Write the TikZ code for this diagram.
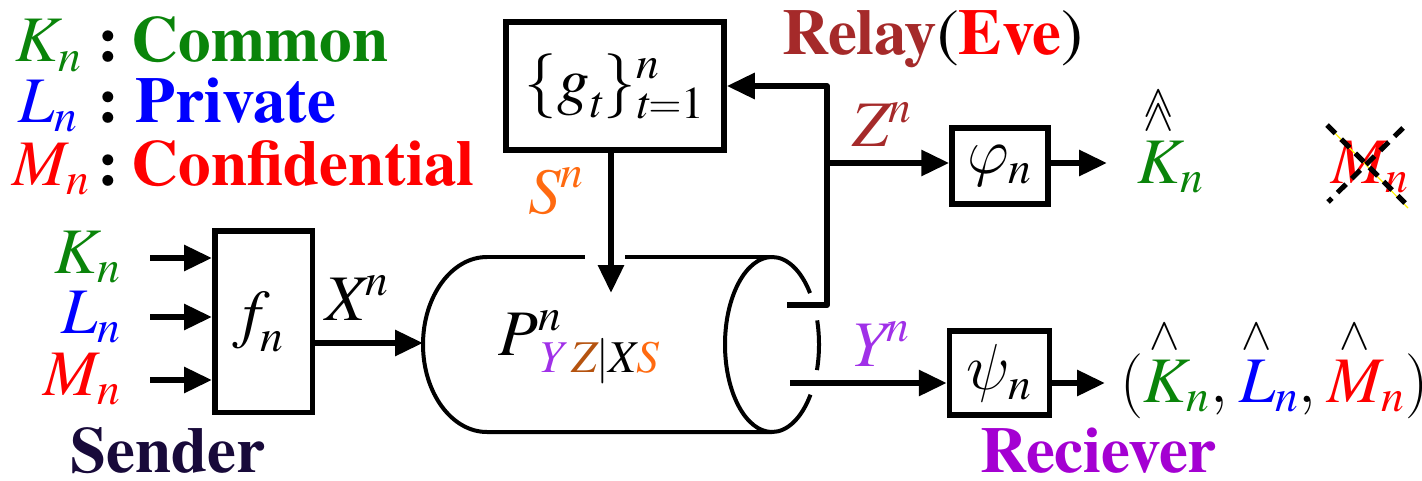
\documentclass[tikz,border=0pt]{standalone}
\usepackage{fix-cm}
\usepackage{amsmath}
\usepackage{fontspec}
\setmainfont{texgyretermes}[
    Extension=.otf,
    UprightFont=*-regular,
    BoldFont=*-bold,
    ItalicFont=*-italic,
    BoldItalicFont=*-bolditalic]
\usetikzlibrary{positioning,arrows.meta,calc}
\definecolor{keygreen}{HTML}{0A840A}
\definecolor{keyblue}{HTML}{0000FF}
\definecolor{keyred}{HTML}{FF0000}
\definecolor{relaybrown}{HTML}{A52A2A}
\definecolor{stateorange}{HTML}{FF6A10}
\definecolor{ypurple}{HTML}{A030E8}
\definecolor{zbrown}{HTML}{B5530F}
\definecolor{rxpurple}{HTML}{A400D2}
\definecolor{txnavy}{HTML}{180A3A}
\newcommand{\bigsize}{\fontsize{32.5}{38}\selectfont}
\newcommand{\mv}[1]{\textit{#1}}
\newcommand{\symK}{\mv{K}_{\mv{n}}}
\newcommand{\symL}{\mv{L}_{\mv{n}}}
\newcommand{\symM}{\mv{M}_{\mv{n}}}
\newcommand{\caret}[1]{{\stackrel{\wedge}{#1}}}
\newcommand{\dcaret}[1]{{\stackrel{\wedge\llap{\raisebox{7pt}{$\scriptstyle\wedge$}}}{#1}}}
\tikzset{
    every node/.style={inner sep=0pt,font=\bigsize},
    blk/.style={draw,line width=2.75pt,fill=white,inner sep=0pt},
    sig/.style={line width=3pt,line join=round,-{Triangle[length=14pt,width=12.5pt]}},
    pipe/.style={line width=2pt},
    head/.style={font=\bigsize\bfseries},
    cross/.style={line width=2.5pt,dash pattern=on 6pt off 4pt},
}

\begin{document}
\begin{tikzpicture}[x=0.5pt,y=0.5pt]
    \useasboundingbox (0,0) rectangle (1422,-481);

    % legend
    \node[anchor=base west,keygreen] (legk) at (15,-62) {$\symK$};
    \node[head,anchor=base west] (colk) at (97,-62) {:};
    \node[head,keygreen,base right=6pt of colk] (common) {Common};
    \node[anchor=base west,keyblue] (legl) at (18,-122) {$\symL$};
    \node[head,anchor=base west] (coll) at (97,-122) {:};
    \node[head,keyblue,base right=8pt of coll] (private) {Private};
    \node[anchor=base west,keyred] (legm) at (12,-185) {$\symM$};
    \node[head,anchor=base west] (colm) at (97,-185) {:};
    \node[head,keyred,base right=6pt of colm] (confid) {Confidential};

    % sender
    \node[blk,minimum width=48.75pt,minimum height=90.75pt] (f) at (263.5,-321.5) {$\mv{f}_{\mv{n}}$};
    \node[anchor=base east,keygreen] (kin) at (122,-273) {$\symK$};
    \node[anchor=base east,keyblue] (lin) at (122,-333) {$\symL$};
    \node[anchor=base east,keyred] (min) at (122,-395) {$\symM$};
    \coordinate (ki) at (150,-258);
    \coordinate (li) at (150,-317);
    \coordinate (mi) at (150,-380);
    \draw[sig] (ki) -- (ki -| f.west);
    \draw[sig] (li) -- (li -| f.west);
    \draw[sig] (mi) -- (mi -| f.west);
    \node[head,txnavy,anchor=base west] (sender) at (70,-472) {Sender};

    % channel
    \draw[pipe] (487,-257) arc[start angle=90,end angle=270,x radius=64,y radius=87.5] -- (772,-432);
    \draw[pipe] (487,-257) -- (585,-257) (625,-257) -- (772,-257);
    \draw[pipe] (772,-257) arc[start angle=90,end angle=270,x radius=47,y radius=87.5];
    \draw[pipe] (772,-257) arc[start angle=90,end angle=36,x radius=47,y radius=87.5];
    \draw[pipe] (772,-344.5) ++(16:47 and 87.5) arc[start angle=16,end angle=-17,x radius=47,y radius=87.5];
    \draw[pipe] (772,-344.5) ++(-35:47 and 87.5) arc[start angle=-35,end angle=-90,x radius=47,y radius=87.5];
    \node[anchor=base west] (chan) at (498,-355)
        {$\mv{P}^{\mv{n}}_{\textcolor{ypurple}{\mv{Y}}\,\textcolor{zbrown}{\mv{Z}}\vert\mv{X}\textcolor{stateorange}{\mv{S}}}$};
    \coordinate (chin) at (423,-343);
    \coordinate (chs) at (611,-293);
    \coordinate (zout) at (787,-305);
    \coordinate (zbend) at (827,-305);
    \coordinate (yout) at (790,-383);

    \draw[sig] (f.east |- chin) -- (chin);
    \node[anchor=base west] (xlab) at (325,-320) {$\mv{X}^{\mv{n}}$};

    % state sequence
    \node[blk,minimum width=109pt,minimum height=64pt] (g) at (615,-86)
        {$\{\mv{g}_{\mv{t}}\}^{\mv{n}}_{\mv{t}=\mathrm{1}}$};
    \draw[sig] (g.south -| chs) -- (chs);
    \node[anchor=base west,stateorange] (slab) at (528,-213) {$\mv{S}^{\mv{n}}$};

    % relay
    \node[head,anchor=base west] (relay) at (782,-55)
        {\textcolor{relaybrown}{Relay}\textmd{(}\textcolor{keyred}{Eve}\textmd{)}};
    \node[blk,minimum width=48pt,minimum height=38pt] (phi) at (1000,-166) {$\varphi_{\mv{n}}$};
    \draw[sig] (zout) -- (zbend) |- (g.east);
    \draw[sig] (zbend |- 0,-163) -- (phi.west |- 0,-163);
    \node[anchor=base west,relaybrown] (zlab) at (852,-147) {$\mv{Z}^{\mv{n}}$};
    \node[anchor=base west] (khat) at (1137,-183)
        {$\dcaret{\textcolor{keygreen}{\mv{K}}}_{\textcolor{keygreen}{\mv{n}}}$};
    \draw[sig,shorten >=15pt] (phi.east |- 0,-163) -- (khat.west |- 0,-163);
    \node[anchor=base west,keyred] (mgone) at (1331,-183) {$\symM$};
    \draw[yellow,line width=0.6pt] (1330,-128) -- (1408,-208);
    \draw[cross] (1327,-125) -- (1405,-203);
    \draw[cross] (1403,-128) -- (1328,-202);

    % receiver
    \node[blk,minimum width=50pt,minimum height=42pt] (psi) at (999.5,-373) {$\psi_{\mv{n}}$};
    \draw[sig] (yout) -- (yout -| psi.west);
    \node[anchor=base west,ypurple] (ylab) at (850,-366) {$\mv{Y}^{\mv{n}}$};
    \node[anchor=base west] (est) at (1120,-402)
        {$(\caret{\textcolor{keygreen}{\mv{K}}}_{\textcolor{keygreen}{\mv{n}}},
          \caret{\textcolor{keyblue}{\mv{L}}}_{\textcolor{keyblue}{\mv{n}}},
          \caret{\textcolor{keyred}{\mv{M}}}_{\textcolor{keyred}{\mv{n}}})$};
    \draw[sig,shorten >=7.5pt] (psi.east |- yout) -- (est.west |- yout);
    \node[head,rxpurple,anchor=base west] (recv) at (980,-472) {Reciever};
\end{tikzpicture}
\end{document}
